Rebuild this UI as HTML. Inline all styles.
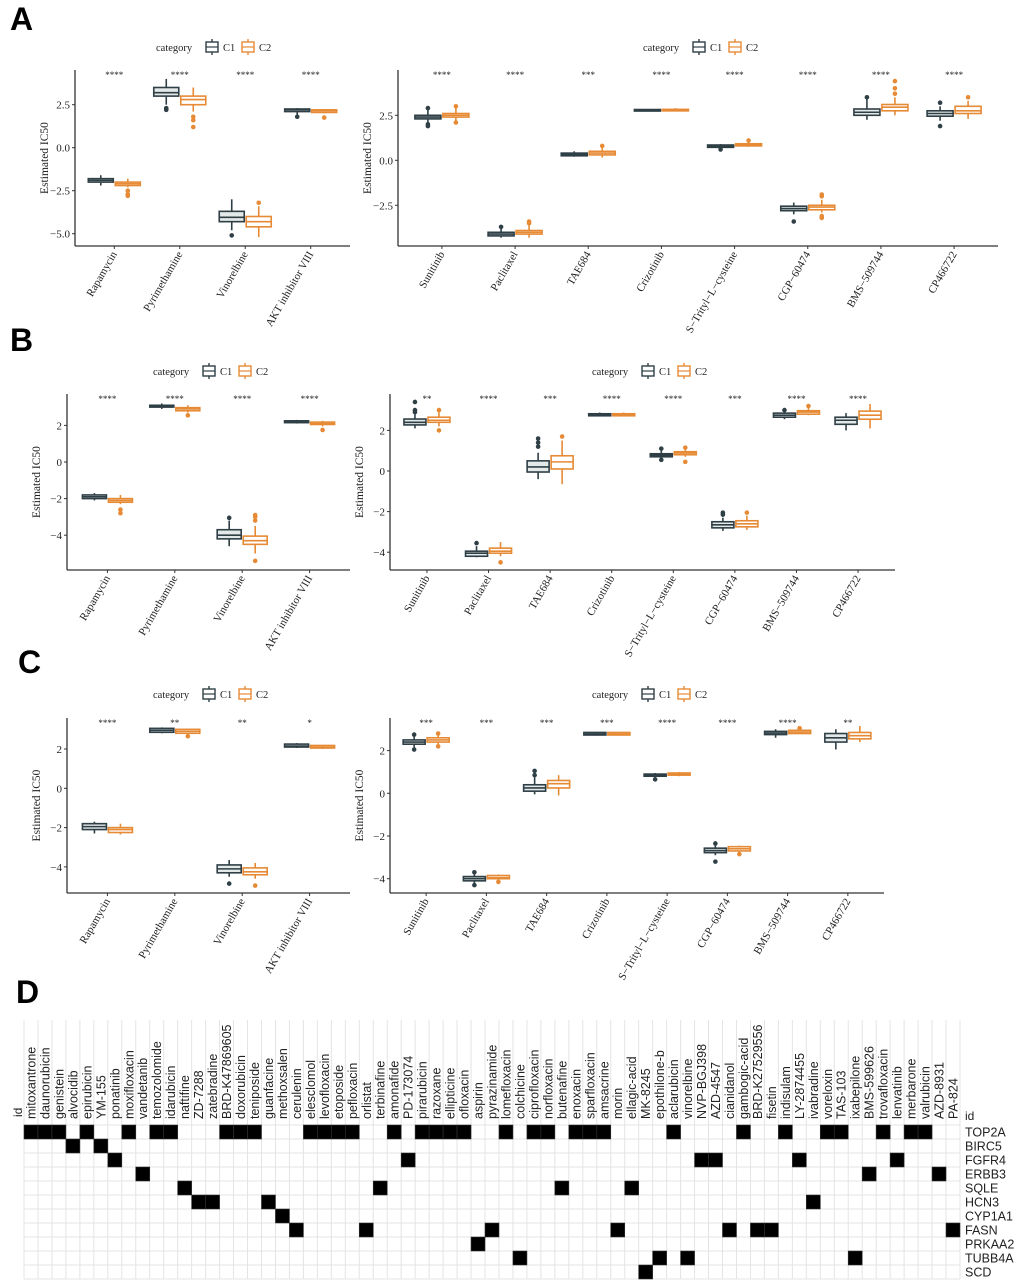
<!DOCTYPE html>
<html><head><meta charset="utf-8">
<style>
html,body{margin:0;padding:0;background:#fff;}
svg{display:block;}
.serif{font-family:"Liberation Serif",serif;}
.sans{font-family:"Liberation Sans",sans-serif;}
</style></head>
<body>
<svg id="fig" width="1020" height="1282" viewBox="0 0 1020 1282" xmlns="http://www.w3.org/2000/svg">
<text x="10" y="30" class="sans" font-size="32" font-weight="bold">A</text>
<text x="10" y="351" class="sans" font-size="32" font-weight="bold">B</text>
<text x="18" y="673" class="sans" font-size="32" font-weight="bold">C</text>
<text x="16" y="1003" class="sans" font-size="32" font-weight="bold">D</text>
</svg>
<script>
// ---- box-plot data: [lowWhisker, q1, median, q3, highWhisker, [outliers]] ----
const drugsLeft = ["Rapamycin","Pyrimethamine","Vinorelbine","AKT inhibitor VIII"];
const drugsRight = ["Sunitinib","Paclitaxel","TAE684","Crizotinib","S\u2212Trityl\u2212L\u2212cysteine","CGP\u221260474","BMS\u2212509744","CP466722"];

const aLeftC1 = [[-2.2,-2.0,-1.9,-1.8,-1.6,[]],[2.5,3.0,3.2,3.5,4.0,[2.2,2.3]],[-4.8,-4.3,-4.05,-3.7,-3.0,[-5.1]],[1.9,2.1,2.2,2.25,2.3,[1.8]]];
const aLeftC2 = [[-2.3,-2.2,-2.1,-2.0,-1.8,[-2.5,-2.7,-2.8]],[2.1,2.5,2.8,3.0,3.5,[1.8,1.6,1.2]],[-5.2,-4.6,-4.3,-4.0,-3.4,[-3.2]],[2.0,2.05,2.15,2.2,2.25,[1.75]]];
const aLeftSig = ["****","****","****","****"];
const aRightC1 = [[2.1,2.3,2.4,2.5,2.8,[1.9,2.0,2.9]],[-4.3,-4.2,-4.1,-4.0,-3.8,[-3.7]],[0.2,0.25,0.33,0.4,0.5,[]],[2.74,2.75,2.78,2.82,2.85,[]],[0.65,0.72,0.78,0.85,0.9,[0.6]],[-3.0,-2.8,-2.68,-2.55,-2.35,[-3.4]],[2.25,2.5,2.67,2.85,3.4,[3.5]],[2.2,2.45,2.6,2.75,3.0,[1.9,3.2]]];
const aRightC2 = [[2.2,2.4,2.5,2.6,2.9,[2.1,3.0]],[-4.3,-4.1,-4.0,-3.9,-3.6,[-3.4,-3.5]],[0.15,0.3,0.4,0.5,0.7,[0.8]],[2.74,2.75,2.78,2.83,2.9,[]],[0.75,0.8,0.86,0.92,1.0,[1.1]],[-2.9,-2.75,-2.6,-2.5,-2.2,[-3.2,-3.1,-2.0,-1.9]],[2.5,2.75,2.95,3.1,3.5,[3.7,4.0,4.4]],[2.3,2.6,2.75,3.0,3.3,[3.5]]];
const aRightSig = ["****","****","***","****","****","****","****","****"];

const bLeftC1 = [[-2.1,-2.0,-1.9,-1.8,-1.7,[]],[2.9,3.0,3.05,3.1,3.2,[]],[-4.6,-4.2,-4.0,-3.7,-3.2,[-3.05]],[2.1,2.15,2.2,2.25,2.3,[]]];
const bLeftC2 = [[-2.3,-2.2,-2.1,-2.0,-1.8,[-2.6,-2.8]],[2.7,2.8,2.9,2.97,3.1,[2.55]],[-5.0,-4.5,-4.3,-4.05,-3.5,[-3.0,-2.9,-3.2,-5.4]],[1.95,2.05,2.1,2.18,2.25,[1.75]]];
const bLeftSig = ["****","****","****","****"];
const bRightC1 = [[2.1,2.27,2.4,2.56,2.8,[2.9,3.0,3.4]],[-4.25,-4.2,-4.05,-3.95,-3.7,[-3.55]],[-0.4,-0.05,0.2,0.5,0.9,[1.2,1.4,1.6]],[2.7,2.72,2.77,2.82,2.88,[]],[0.6,0.7,0.78,0.85,1.0,[1.1,0.55]],[-2.95,-2.8,-2.65,-2.5,-2.3,[-2.15,-2.05]],[2.55,2.65,2.75,2.85,2.95,[3.0]],[2.0,2.3,2.5,2.65,2.85,[]]];
const bRightC2 = [[2.2,2.4,2.5,2.65,2.9,[3.0,2.0]],[-4.2,-4.05,-3.95,-3.8,-3.5,[-4.5]],[-0.65,0.1,0.45,0.75,1.5,[1.7]],[2.7,2.72,2.77,2.82,2.88,[]],[0.7,0.8,0.88,0.95,1.05,[1.15,0.45]],[-2.9,-2.75,-2.6,-2.45,-2.2,[-2.05]],[2.75,2.8,2.9,2.97,3.1,[3.2]],[2.1,2.55,2.75,2.95,3.3,[]]];
const bRightSig = ["**","****","***","****","****","***","****","****"];

const cLeftC1 = [[-2.3,-2.1,-1.95,-1.8,-1.7,[]],[2.8,2.85,2.95,3.05,3.1,[]],[-4.5,-4.3,-4.1,-3.9,-3.65,[-4.85]],[2.05,2.1,2.15,2.25,2.3,[]]];
const cLeftC2 = [[-2.35,-2.25,-2.1,-2.0,-1.8,[]],[2.75,2.8,2.9,3.0,3.0,[2.65]],[-4.6,-4.4,-4.25,-4.05,-3.8,[-4.95]],[2.0,2.05,2.1,2.18,2.2,[]]];
const cLeftSig = ["****","**","**","*"];
const cRightC1 = [[2.15,2.3,2.4,2.5,2.7,[2.05,2.75]],[-4.2,-4.1,-4.0,-3.9,-3.8,[-4.3,-3.7]],[-0.05,0.1,0.25,0.4,0.75,[0.85,1.05]],[2.7,2.73,2.78,2.85,2.85,[]],[0.72,0.8,0.85,0.9,0.95,[0.65]],[-2.9,-2.78,-2.68,-2.57,-2.4,[-3.2,-2.35]],[2.6,2.75,2.82,2.9,3.0,[]],[2.05,2.4,2.6,2.8,3.0,[]]];
const cRightC2 = [[2.25,2.4,2.5,2.6,2.75,[2.2,2.8]],[-4.1,-4.0,-3.95,-3.85,-3.8,[-4.15]],[-0.1,0.25,0.45,0.6,0.85,[]],[2.7,2.73,2.78,2.85,2.85,[]],[0.8,0.85,0.9,0.95,1.0,[]],[-2.8,-2.7,-2.6,-2.5,-2.45,[-2.85]],[2.8,2.8,2.87,2.95,3.0,[3.05]],[2.4,2.55,2.7,2.85,3.15,[]]];
const cRightSig = ["***","***","***","***","****","****","****","**"];

const ticksAB = [2.5,0,-2.5,-5];
const ticksAR = [2.5,0,-2.5];
const ticksBC = [2,0,-2,-4];
const tickLabA = ["2.5","0.0","\u22122.5","\u22125.0"];
const tickLabAR = ["2.5","0.0","\u22122.5"];
const tickLabBC = ["2","0","\u22122","\u22124"];

// ---- heatmap data ----
const hmDrugs = ["mitoxantrone","daunorubicin","genistein","alvocidib","epirubicin","YM-155","ponatinib","moxifloxacin","vandetanib","temozolomide","idarubicin","naftifine","ZD-7288","zatebradine","BRD-K47869605","doxorubicin","teniposide","guanfacine","methoxsalen","cerulenin","elesclomol","levofloxacin","etoposide","pefloxacin","orlistat","terbinafine","amonafide","PD-173074","pirarubicin","razoxane","ellipticine","ofloxacin","aspirin","pyrazinamide","lomefloxacin","colchicine","ciprofloxacin","norfloxacin","butenafine","enoxacin","sparfloxacin","amsacrine","morin","ellagic-acid","MK-8245","epothilone-b","aclarubicin","vinorelbine","NVP-BGJ398","AZD-4547","cianidanol","gambogic-acid","BRD-K27529556","fisetin","indisulam","LY-2874455","ivabradine","voreloxin","TAS-103","ixabepilone","BMS-599626","trovafloxacin","lenvatinib","merbarone","valrubicin","AZD-8931","PA-824"];
const hmGenes = ["TOP2A","BIRC5","FGFR4","ERBB3","SQLE","HCN3","CYP1A1","FASN","PRKAA2","TUBB4A","SCD"];
const hmTOP2A = [0,1,2,4,7,9,10,14,15,16,20,21,22,23,26,28,29,30,31,34,36,37,39,40,41,46,51,54,57,58,61,63,64];
const hmBIRC5 = [3,5];
const hmFGFR4 = [6,27,48,49,55,62];
const hmERBB3 = [8,60,65];
const hmSQLE = [11,25,38,43];
const hmHCN3 = [12,13,17,56];
const hmCYP1A1 = [18];
const hmFASN = [19,24,33,42,50,52,53,66];
const hmPRKAA2 = [32];
const hmTUBB4A = [35,45,47,59];
const hmSCD = [44];
const hmHits = [hmTOP2A,hmBIRC5,hmFGFR4,hmERBB3,hmSQLE,hmHCN3,hmCYP1A1,hmFASN,hmPRKAA2,hmTUBB4A,hmSCD];

const NS = "http://www.w3.org/2000/svg";
const svg = document.getElementById("fig");
function mk(tag, attrs, parent){ const e=document.createElementNS(NS,tag); for(const k in attrs) e.setAttribute(k,attrs[k]); (parent||svg).appendChild(e); return e; }

const C1 = "#2f3f46", C2 = "#e68a35";

function panel(p){
  const g = mk("g",{});
  
  
  const n = p.cats.length;
  const step = (p.x1-p.x0)/(n+0.2);
  const xs = i => p.x0 + (i+0.6)*step;
  const ys = v => p.yz - v*p.k;
  const bw = p.bw;
  // axes
  const ya = mk("line",{x1:p.x0,y1:p.top,x2:p.x0,y2:p.bot,stroke:"#333","stroke-width":1.3},g);
  
  
  const xa = mk("line",{x1:p.x0,y1:p.bot,x2:p.x1,y2:p.bot,stroke:"#333","stroke-width":1.3},g);
  
  
  p.ticks.forEach((t,i)=>{
    const y = ys(t);
    mk("line",{x1:p.x0-3,y1:y,x2:p.x0,y2:y,stroke:"#333","stroke-width":1},g);
    const tl = mk("text",{x:p.x0-5,y:y+4,"text-anchor":"end","font-size":11,class:"serif",fill:"#222"},g);
    tl.textContent = p.tickLab[i];
    
    
  });
  const yt = mk("text",{transform:`translate(${p.x0-27},${(p.top+p.bot)/2}) rotate(-90)`,"text-anchor":"middle","font-size":11.5,class:"serif",fill:"#222"},g);
  yt.textContent = "Estimated IC50";
  
  
  p.cats.forEach((c,i)=>{
    const x = xs(i);
    mk("line",{x1:x,y1:p.bot,x2:x,y2:p.bot+3,stroke:"#333","stroke-width":1},g);
    const lab = mk("text",{transform:`translate(${x+3},${p.bot+8}) rotate(-60)`,"text-anchor":"end","font-size":11,class:"serif",fill:"#222"},g);
    lab.textContent = c;
    
    
    const sg = mk("text",{x:x,y:p.top+8,"text-anchor":"middle","font-size":9,class:"serif",fill:"#222"},g);
    sg.textContent = p.sig[i];
    
    
    [[p.d1[i],C1,"#e3e8e8",-1],[p.d2[i],C2,"#fff",1]].forEach(([d,col,fill,s])=>{
      const cx = x + s*(bw/2+1);
      const bg = mk("g",{},g);
      
      
      mk("line",{x1:cx,y1:ys(d[0]),x2:cx,y2:ys(d[4]),stroke:col,"stroke-width":1.6},bg);
      const yq3=ys(d[3]), yq1=ys(d[1]);
      mk("rect",{x:cx-bw/2,y:yq3,width:bw,height:Math.max(yq1-yq3,1.5),fill:fill,stroke:col,"stroke-width":1.6},bg);
      mk("line",{x1:cx-bw/2,y1:ys(d[2]),x2:cx+bw/2,y2:ys(d[2]),stroke:col,"stroke-width":1.6},bg);
      d[5].forEach(o=>{ mk("circle",{cx:cx,cy:ys(o),r:2.3,fill:col},bg); });
    });
  });
  // legend
  const lg = mk("g",{},g);
  
  
  const lt = mk("text",{x:p.lx,y:p.ly+4,"font-size":10.5,class:"serif",fill:"#222"},lg);
  lt.textContent = "category";
  [[C1,"C1",0],[C2,"C2",36]].forEach(([col,t,dx])=>{
    const ix = p.lx+50+dx;
    const e = mk("g",{},lg);
    
    
    mk("line",{x1:ix+6,y1:p.ly-8,x2:ix+6,y2:p.ly+8,stroke:col,"stroke-width":1.4},e);
    mk("rect",{x:ix,y:p.ly-5,width:12,height:10,fill:"#fff",stroke:col,"stroke-width":1.4},e);
    mk("line",{x1:ix,y1:p.ly,x2:ix+12,y2:p.ly,stroke:col,"stroke-width":1.2},e);
    const tt = mk("text",{x:ix+17,y:p.ly+4,"font-size":10.5,class:"serif",fill:"#222"},e);
    tt.textContent = t;
  });
}

panel({name:"panel-a-left",cats:drugsLeft,d1:aLeftC1,d2:aLeftC2,sig:aLeftSig,x0:75,x1:350,top:70,bot:246,yz:147.7,k:17.2,ticks:ticksAB,tickLab:tickLabA,bw:25,lx:156,ly:47});
panel({name:"panel-a-right",cats:drugsRight,d1:aRightC1,d2:aRightC2,sig:aRightSig,x0:398,x1:998,top:70,bot:246,yz:160.3,k:18,ticks:ticksAR,tickLab:tickLabAR,bw:26,lx:643,ly:47});
panel({name:"panel-b-left",cats:drugsLeft,d1:bLeftC1,d2:bLeftC2,sig:bLeftSig,x0:67,x1:350,top:394,bot:570,yz:462,k:18.3,ticks:ticksBC,tickLab:tickLabBC,bw:24,lx:153,ly:371});
panel({name:"panel-b-right",cats:drugsRight,d1:bRightC1,d2:bRightC2,sig:bRightSig,x0:390,x1:895,top:394,bot:570,yz:471,k:20.3,ticks:ticksBC,tickLab:tickLabBC,bw:22,lx:592,ly:371});
panel({name:"panel-c-left",cats:drugsLeft,d1:cLeftC1,d2:cLeftC2,sig:cLeftSig,x0:67,x1:350,top:718,bot:893,yz:788.3,k:19.65,ticks:ticksBC,tickLab:tickLabBC,bw:24,lx:153,ly:694});
panel({name:"panel-c-right",cats:drugsRight,d1:cRightC1,d2:cRightC2,sig:cRightSig,x0:390,x1:884,top:718,bot:893,yz:793.3,k:21.35,ticks:ticksBC,tickLab:tickLabBC,bw:22,lx:592,ly:694});

// ---- heatmap ----
(function(){
  const hx = 24, hy = 1125, cw = 13.97, ch = 14;
  const g = mk("g",{});
  
  
  const nC = hmDrugs.length, nR = hmGenes.length;
  for(let i=0;i<=nC;i++){
    mk("line",{x1:hx+i*cw,y1:1020,x2:hx+i*cw,y2:hy+nR*ch,stroke:"#e4e4e4","stroke-width":1},g);
  }
  for(let j=0;j<=nR;j++){
    mk("line",{x1:hx,y1:hy+j*ch,x2:hx+nC*cw,y2:hy+j*ch,stroke:"#e4e4e4","stroke-width":1},g);
  }
  hmHits.forEach((cols,j)=>{
    cols.forEach(c=>{
      const r = mk("rect",{x:hx+c*cw,y:hy+j*ch,width:cw,height:ch,fill:"#000",stroke:"#333","stroke-width":0.6},g);
      
      
    });
  });
  hmDrugs.forEach((d,i)=>{
    const t = mk("text",{transform:`translate(${hx+i*cw+cw/2+4.5},1119) rotate(-90)`,"font-size":12.5,class:"sans",fill:"#222"},g);
    t.textContent = d;
    
    
  });
  hmGenes.forEach((gn,j)=>{
    const t = mk("text",{x:965,y:hy+j*ch+11.5,"font-size":12.5,class:"sans",fill:"#222"},g);
    t.textContent = gn;
    
    
  });
  const id1 = mk("text",{transform:"translate(22,1117) rotate(-90)","font-size":12,class:"sans",fill:"#222"},g);
  id1.textContent = "id";
  
  
  const id2 = mk("text",{x:965,y:1120,"font-size":12,class:"sans",fill:"#222"},g);
  id2.textContent = "id";
  
  
})();
</script>
</body></html>
